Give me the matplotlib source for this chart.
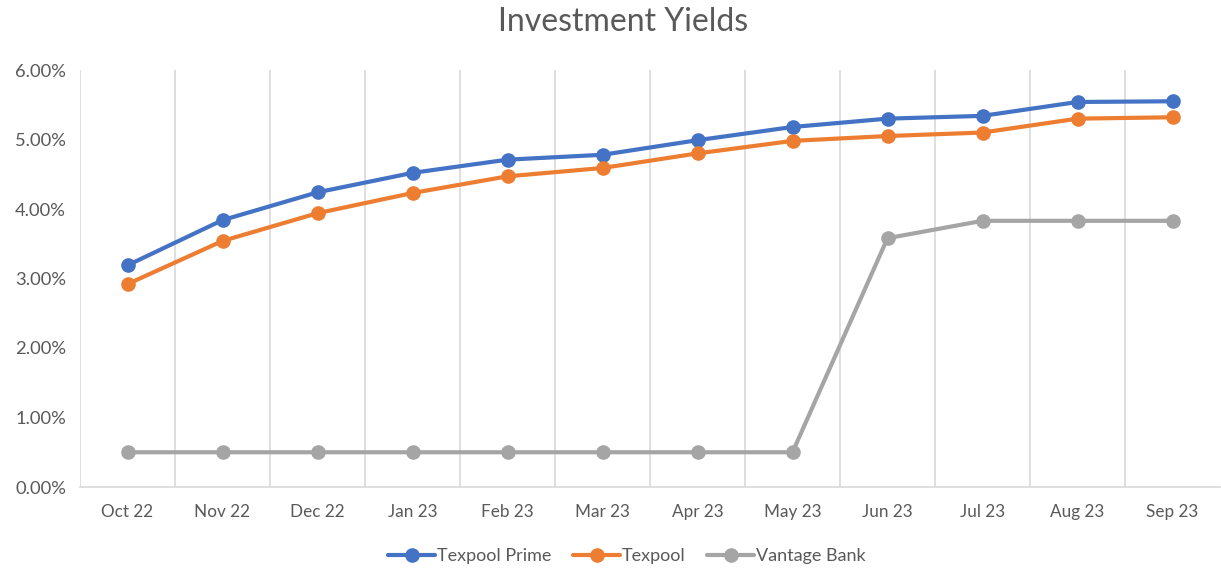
import matplotlib
matplotlib.use("Agg")
import matplotlib.pyplot as plt
from matplotlib.ticker import FuncFormatter, MultipleLocator

categories = ["Oct 22", "Nov 22", "Dec 22", "Jan 23", "Feb 23", "Mar 23",
              "Apr 23", "May 23", "Jun 23", "Jul 23", "Aug 23", "Sep 23"]
texpool_prime = [3.19, 3.84, 4.24, 4.52, 4.71, 4.78, 4.99, 5.18, 5.30, 5.34, 5.54, 5.55]
texpool = [2.92, 3.54, 3.94, 4.23, 4.47, 4.59, 4.80, 4.98, 5.05, 5.10, 5.30, 5.32]
vantage_bank = [0.50, 0.50, 0.50, 0.50, 0.50, 0.50, 0.50, 0.50, 3.58, 3.83, 3.83, 3.83]

plt.rcParams['font.family'] = ['Lato', 'DejaVu Sans']

fig = plt.figure(figsize=(12.21, 5.68), dpi=100)
ax = fig.add_axes([80/1221, 81/568, 1140/1221, 417/568])

x = list(range(len(categories)))
series = [("Texpool Prime", texpool_prime, "#4472C4"),
          ("Texpool", texpool, "#ED7D31"),
          ("Vantage Bank", vantage_bank, "#A5A5A5")]
for name, vals, col in series:
    ax.plot(x, vals, color=col, lw=3.0, marker='o', markersize=9.5,
            label=name, solid_capstyle='round', zorder=3)

ax.set_xlim(-0.5, len(categories) - 0.5)
ax.set_ylim(0, 6)
ax.yaxis.set_major_locator(MultipleLocator(1))
ax.yaxis.set_major_formatter(FuncFormatter(lambda v, p: f"{v:.2f}%"))
ax.set_xticks(x)
ax.set_xticklabels(categories)

for b in [i + 0.5 for i in range(-1, len(categories) - 1)]:
    ax.axvline(b, color="#D9D9D9", lw=1.2, zorder=1)

for s in ["top", "right", "left"]:
    ax.spines[s].set_visible(False)
ax.spines["bottom"].set_color("#D9D9D9")
ax.spines["bottom"].set_linewidth(1.2)
ax.tick_params(axis='x', length=0, labelsize=12.3, colors="#595959", pad=12)
ax.tick_params(axis='y', length=0, labelsize=13.2, colors="#595959", pad=10)

fig.text(623/1221, 1 - 22/568, "Investment Yields", ha='center', va='center',
         fontsize=23, color="#595959")

fig.legend(loc='center', bbox_to_anchor=(627/1221, 1 - 556/568), ncol=3,
           frameon=False, fontsize=13, labelcolor="#595959",
           handlelength=2.6, columnspacing=1.2, handletextpad=0.1)

fig.savefig("out.png", dpi=100, facecolor="white")
